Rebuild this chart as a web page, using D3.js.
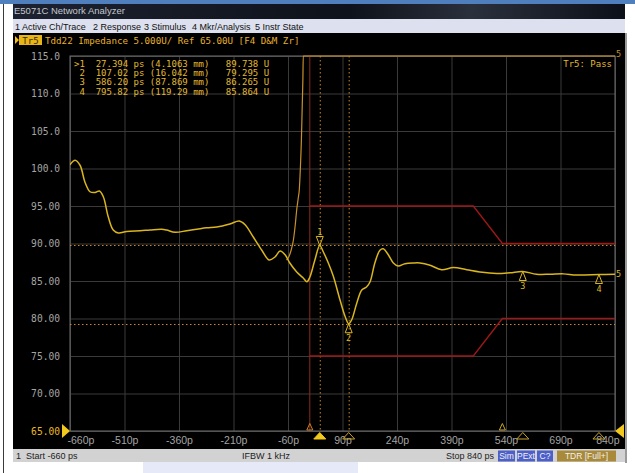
<!DOCTYPE html>
<html><head><meta charset="utf-8">
<script src="https://cdn.jsdelivr.net/npm/d3@7"></script>
<style>
html,body{margin:0;padding:0;background:#fff;overflow:hidden;}
svg{display:block;}
text{white-space:pre;}
</style></head>
<body>
<script>
// ---------- data ----------
const X_TICKS = [-660,-510,-360,-210,-60,90,240,390,540,690,840];
const Y_TICKS = [65,70,75,80,85,90,95,100,105,110,115];
const Y_LABELS = ["65.00","70.00","75.00","80.00","85.00","90.00","95.00","100.0","105.0","110.0","115.0"];

// main trace Tr5 (time in ps, impedance in U)
const TRACE_T = [-660,-646,-632,-619,-605,-591,-579,-568,-555,-541,-527,-504,-467,-440,-408,-394,-371,-339,-311,-284,-256,-220,-194,-178,-156,-132,-112,-96,-82,-68,-55,-36,-18,-8,0,14,27.4,37,51,65,83,97,107,115,129,143,156,166,179,193,202,216,230,243,262,285,303,331,363,395,432,468,514,551,586,624,661,698,734,796,840];
const TRACE_V = [100.5,101.1,100.4,98.2,96.9,96.8,97.0,96.2,93.6,91.8,91.4,91.6,91.7,91.8,91.9,91.8,91.5,91.7,91.9,92.1,92.2,92.6,93.0,92.5,90.9,89.1,87.8,88.2,89.0,88.5,87.4,86.2,85.4,84.9,85.5,87.8,89.74,88.9,87.4,85.6,82.5,80.3,79.3,79.8,82.0,83.8,84.2,84.9,87.4,89.1,89.3,88.5,87.4,87.0,87.3,87.4,87.4,87.1,86.5,86.8,86.5,86.2,86.0,86.1,86.27,85.9,85.9,85.95,85.8,85.86,85.9];

// second trace that runs off scale (top)
const OFF_T = [-64,-58,-52,-45,-40,-36,-32,-29,-26,-23,-21,-19,-18,840];
const OFF_V = [87.8,88.2,89.0,90.5,92.5,94.5,96.0,97.1,100,104,108,112,115,115];

// limit lines
const LIM_T = [0,450,530,840];
const LIM_UPPER = [95,95,90,90];
const LIM_LOWER = [75,75,80,80];
const GATE_T = [0];

// markers
const MK_ID = ["1","2","3","4"];
const MK_T = [27.394,107.02,586.20,795.82];
const MK_MM = [4.1063,16.042,87.869,119.29];
const MK_V = [89.738,79.295,86.265,85.864];
const MK_BELOW = [false,true,true,true];

// ---------- drawing ----------
const W=635,H=473;
const svg=d3.select("body").append("svg").attr("width",W).attr("height",H);
svg.append("rect").attr("width",W).attr("height",H).attr("fill","#ffffff");
// page decorations
svg.append("rect").attr("x",143).attr("y",462).attr("width",215).attr("height",11).attr("fill","#e6e9f8");
svg.append("rect").attr("x",0).attr("y",0).attr("width",W).attr("height",4).attr("fill","#4f7fbd");
svg.append("line").attr("x1",3.5).attr("x2",3.5).attr("y1",4).attr("y2",H).attr("stroke","#3a3a3a");
// window
const winX=13, winR=625;
const tg=svg.append("defs").append("linearGradient").attr("id","tb").attr("x1",0).attr("x2",1);
tg.append("stop").attr("offset","0").attr("stop-color","#1c2230");
tg.append("stop").attr("offset","0.55").attr("stop-color","#0e121a");
tg.append("stop").attr("offset","0.75").attr("stop-color","#2a303c");
tg.append("stop").attr("offset","1").attr("stop-color","#0c1018");
svg.append("rect").attr("x",winX).attr("y",4).attr("width",winR-winX).attr("height",15).attr("fill","url(#tb)");
svg.append("text").attr("x",winX+1).attr("y",14).text("E5071C Network Analyzer")
  .attr("font-family","Liberation Sans, Arial").attr("font-size",9.5).attr("fill","#c4c7cc");
svg.append("rect").attr("x",winX).attr("y",19).attr("width",winR-winX).attr("height",14).attr("fill","#dde0ee");
const MENU=["1 Active Ch/Trace","2 Response","3 Stimulus","4 Mkr/Analysis","5 Instr State"];
const MENU_X=[15,93,144,192,255];
svg.selectAll(".menu").data(MENU).enter().append("text")
  .attr("x",(d,i)=>MENU_X[i]).attr("y",29.5).text(d=>d)
  .attr("font-family","Liberation Sans, Arial").attr("font-size",9).attr("fill","#111");
svg.append("rect").attr("x",winX).attr("y",33).attr("width",winR-winX).attr("height",416).attr("fill","#000");
svg.append("rect").attr("x",winR).attr("y",33).attr("width",2).attr("height",430).attr("fill","#9a9a9a");
// status bar
svg.append("rect").attr("x",winX).attr("y",449).attr("width",winR-winX).attr("height",13).attr("fill","#d2d2d2");
const sf="Liberation Sans, Arial";
svg.append("text").attr("x",16).attr("y",459).text("1  Start -660 ps").attr("font-family",sf).attr("font-size",9).attr("fill","#222");
svg.append("text").attr("x",242).attr("y",459).text("IFBW 1 kHz").attr("font-family",sf).attr("font-size",9).attr("fill","#222");
svg.append("text").attr("x",446).attr("y",459).text("Stop 840 ps").attr("font-family",sf).attr("font-size",9).attr("fill","#222");
const BADGES=[["Sim",498,17,"#4d5fc8"],["PExt",517,18,"#4d5fc8"],["C?",537,16,"#4d5fc8"],["TDR [Full+]",557,59,"#a88a3a"]];
BADGES.forEach(b=>{
  svg.append("rect").attr("x",b[1]).attr("y",450.5).attr("width",b[2]).attr("height",11).attr("fill",b[3]);
  svg.append("text").attr("x",b[1]+b[2]/2).attr("y",459).attr("text-anchor","middle").text(b[0])
    .attr("font-family",sf).attr("font-size",8.5).attr("fill","#f0f0f0");
});

// title
svg.append("path").attr("d","M15,36 L19,40 L15,44 Z").attr("fill","#f0c020");
svg.append("rect").attr("x",19).attr("y",35).attr("width",23).attr("height",10).attr("fill","#e8b418");
svg.append("text").attr("x",30.5).attr("y",43.5).attr("text-anchor","middle").text("Tr5")
  .attr("font-family","DejaVu Sans Mono").attr("font-size",9).attr("fill","#3a2a00");
svg.append("text").attr("x",45).attr("y",44).text("Tdd22 Impedance 5.000U/ Ref 65.00U [F4 D&M Zr]")
  .attr("font-family","DejaVu Sans Mono").attr("font-size",9.2).attr("fill","#e6b02a");

// plot
const L=70,R=615,T=56,B=431;
const x=d3.scaleLinear().domain([-660,840]).range([L,R]);
const y=d3.scaleLinear().domain([65,115]).range([B,T]);

svg.append("g").attr("transform",`translate(0,${B})`)
  .call(d3.axisBottom(x).tickValues(X_TICKS).tickSize(-(B-T)).tickFormat(""))
  .call(g=>{g.select(".domain").remove();g.selectAll("line").attr("stroke","#3a3a3a");});
svg.append("g").attr("transform",`translate(${L},0)`)
  .call(d3.axisLeft(y).tickValues(Y_TICKS).tickSize(-(R-L)).tickFormat(""))
  .call(g=>{g.select(".domain").remove();g.selectAll("line").attr("stroke","#3a3a3a");});
svg.append("rect").attr("x",L).attr("y",T).attr("width",R-L).attr("height",B-T)
  .attr("fill","none").attr("stroke","#6e6e6e");

// axis labels
const ax=svg.append("g").attr("transform",`translate(0,${B})`)
  .call(d3.axisBottom(x).tickValues(X_TICKS).tickSize(0).tickFormat(d=>d+"p"));
ax.select(".domain").remove();
ax.selectAll("text").attr("y",13).attr("dy",0).attr("font-family","Liberation Sans, Arial").attr("font-size",10.5).attr("fill","#a4a4a4");
ax.selectAll(".tick").filter(d=>d===X_TICKS[0]).select("text").attr("text-anchor","start").attr("x",-3);
ax.selectAll(".tick").filter(d=>d===X_TICKS[X_TICKS.length-1]).select("text").attr("text-anchor","end").attr("x",4);
const ay=svg.append("g").attr("transform",`translate(${L},0)`)
  .call(d3.axisLeft(y).tickValues(Y_TICKS).tickSize(0).tickPadding(10).tickFormat((d,i)=>Y_LABELS[i]));
ay.select(".domain").remove();
ay.selectAll("text").attr("font-family","DejaVu Sans Mono").attr("font-size",9.6).attr("fill","#a4a4a4");
ay.selectAll(".tick").filter(d=>d===65).select("text").attr("fill","#e8b820");

// clip
svg.append("clipPath").attr("id","clip").append("rect").attr("x",L).attr("y",T-1).attr("width",R-L+1).attr("height",B-T+2);
const plot=svg.append("g").attr("clip-path","url(#clip)");

// marker reference dotted lines
const dotC="#c88a26";
MK_T.slice(0,2).forEach(t=>{
  plot.append("line").attr("x1",x(t)+0.5).attr("x2",x(t)+0.5).attr("y1",T).attr("y2",B).attr("stroke",dotC).attr("stroke-dasharray","1.5,2.5");
});
MK_V.slice(0,2).forEach(v=>{
  plot.append("line").attr("x1",L).attr("x2",R).attr("y1",Math.round(y(v))+0.5).attr("y2",Math.round(y(v))+0.5).attr("stroke",dotC).attr("stroke-dasharray","1.5,2.5");
});
// gate line
GATE_T.forEach(t=>plot.append("line").attr("x1",x(t)).attr("x2",x(t)).attr("y1",T).attr("y2",B).attr("stroke","#8c2c1c").attr("stroke-width",1));

// limit lines
const limLine=d3.line().x((d,i)=>x(LIM_T[i])).y(d=>y(d));
plot.append("path").attr("d",limLine(LIM_UPPER)).attr("fill","none").attr("stroke","#a01818").attr("stroke-width",1.3);
plot.append("path").attr("d",limLine(LIM_LOWER)).attr("fill","none").attr("stroke","#a01818").attr("stroke-width",1.3);

// off-scale trace
const offData=OFF_T.map((t,i)=>({t,v:OFF_V[i]}));
plot.append("path").attr("d",d3.line().x(d=>x(d.t)).y(d=>y(d.v)).curve(d3.curveMonotoneX)(offData))
  .attr("fill","none").attr("stroke","#c8902c").attr("stroke-width",1.2);

// main trace
const trData=TRACE_T.map((t,i)=>({t,v:TRACE_V[i]}));
plot.append("path").attr("d",d3.line().x(d=>x(d.t)).y(d=>y(d.v)).curve(d3.curveCatmullRom.alpha(0.5))(trData))
  .attr("fill","none").attr("stroke","#d9b51e").attr("stroke-width",1.5);

// trace markers
const mkC="#dcb828";
MK_T.forEach((t,i)=>{
  const px=x(t), py=y(MK_V[i]);
  if(!MK_BELOW[i]){
    svg.append("path").attr("d",`M${px},${py} L${px-3.5},${py-9} L${px+3.5},${py-9} Z`).attr("fill","none").attr("stroke",mkC).attr("stroke-width",1);
    svg.append("text").attr("x",px).attr("y",py-10).attr("text-anchor","middle").text(MK_ID[i])
      .attr("font-family","DejaVu Sans Mono").attr("font-size",8.5).attr("fill",mkC);
  } else {
    svg.append("path").attr("d",`M${px},${py} L${px-3.5},${py+9} L${px+3.5},${py+9} Z`).attr("fill","none").attr("stroke",mkC).attr("stroke-width",1);
    svg.append("text").attr("x",px).attr("y",py+17).attr("text-anchor","middle").text(MK_ID[i])
      .attr("font-family","DejaVu Sans Mono").attr("font-size",8.5).attr("fill",mkC);
  }
});
// trace number labels
svg.append("text").attr("x",616).attr("y",y(TRACE_V[TRACE_V.length-1])+3).text("5").attr("font-family","DejaVu Sans Mono").attr("font-size",8.5).attr("fill",mkC);
svg.append("text").attr("x",616).attr("y",T+1).text("5").attr("font-family","DejaVu Sans Mono").attr("font-size",8.5).attr("fill","#c8902c");

// axis markers (bottom)
MK_T.forEach((t,i)=>{
  const px=x(t);
  svg.append("path").attr("d",`M${px},${B+1.5} L${px-6},${B+8} L${px+6},${B+8} Z`)
    .attr("fill",i===0?"#f2c81c":"none").attr("stroke",i===0?"#f2c81c":"#c8a428").attr("stroke-width",1);
});
// gate / limit small markers above axis
[[GATE_T[0],"#c8802a"],[LIM_T[2],"#c8a428"]].forEach(m=>{
  const px=x(m[0]);
  svg.append("path").attr("d",`M${px},${B-7.5} L${px-3},${B-1} L${px+3},${B-1} Z`).attr("fill","none").attr("stroke",m[1]).attr("stroke-width",1);
});
// reference level triangles
svg.append("path").attr("d",`M62,${B-7} L70,${B} L62,${B+7} Z`).attr("fill","#f2c81c");
svg.append("path").attr("d",`M624,${B-7} L615,${B} L624,${B+7} Z`).attr("fill","#f2c81c");

// readouts
const fmt=d3.format(".5g");
const rd=svg.append("g").attr("font-family","DejaVu Sans Mono").attr("font-size",9).attr("fill","#e0b830");
MK_ID.forEach((id,i)=>{
  const s=`${i===0?">":" "}${id}  ${fmt(MK_T[i])} ps (${fmt(MK_MM[i])} mm)   ${fmt(MK_V[i])} U`;
  rd.append("text").attr("x",74).attr("y",66.5+9.4*i).attr("xml:space","preserve").text(s);
});
svg.append("text").attr("x",612).attr("y",66.5).attr("text-anchor","end").text("Tr5: Pass")
  .attr("font-family","DejaVu Sans Mono").attr("font-size",9).attr("fill","#e0b830");
</script>
</body></html>
